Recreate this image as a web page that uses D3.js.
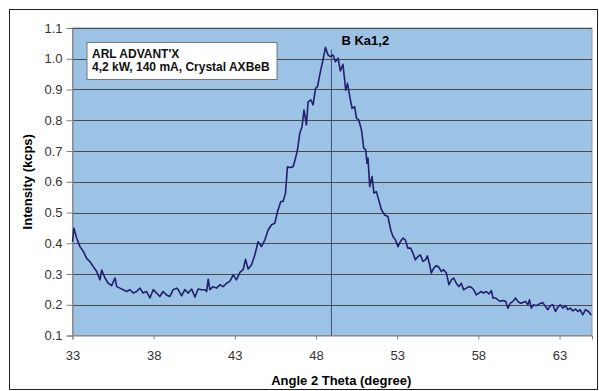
<!DOCTYPE html>
<html>
<head>
<meta charset="utf-8">
<script src="https://cdn.jsdelivr.net/npm/d3@7"></script>
<style>
  body { margin: 0; background: #fff; }
  svg { font-family: Arial, "Liberation Sans", sans-serif; }
</style>
</head>
<body>
<div id="chart"></div>
<script>
// spectrum: angle (degree) and intensity (kcps)
const angles = [
  33.00, 33.09, 33.26, 33.46, 33.67, 33.87, 34.08, 34.28, 34.49, 34.69, 34.80, 35.00,
  35.20, 35.41, 35.62, 35.72, 35.92, 36.12, 36.33, 36.54, 36.74, 36.95, 37.15, 37.35,
  37.56, 37.77, 37.97, 38.18, 38.38, 38.58, 38.79, 39.00, 39.20, 39.41, 39.51, 39.72,
  39.92, 40.13, 40.34, 40.54, 40.74, 40.95, 41.15, 41.26, 41.36, 41.46, 41.66, 41.87,
  42.08, 42.28, 42.49, 42.69, 42.90, 43.10, 43.31, 43.51, 43.66, 43.82, 44.03, 44.23,
  44.43, 44.64, 44.85, 45.05, 45.26, 45.46, 45.63, 45.83, 45.97, 46.12, 46.24, 46.38,
  46.59, 46.74, 46.86, 47.00, 47.14, 47.26, 47.41, 47.51, 47.68, 47.82, 47.97, 48.09,
  48.17, 48.29, 48.43, 48.58, 48.74, 48.89, 49.05, 49.20, 49.36, 49.50, 49.66, 49.73,
  49.83, 49.94, 50.08, 50.22, 50.38, 50.49, 50.63, 50.80, 50.94, 51.06, 51.14, 51.20,
  51.31, 51.45, 51.57, 51.72, 51.86, 52.03, 52.23, 52.43, 52.60, 52.74, 52.89, 53.05,
  53.20, 53.36, 53.50, 53.66, 53.83, 53.97, 54.12, 54.28, 54.43, 54.59, 54.74, 54.86,
  55.00, 55.10, 55.25, 55.41, 55.57, 55.72, 55.86, 56.03, 56.19, 56.34, 56.48, 56.64,
  56.80, 56.95, 57.09, 57.26, 57.42, 57.57, 57.71, 57.87, 58.03, 58.18, 58.32, 58.49,
  58.65, 58.80, 58.90, 59.06, 59.20, 59.35, 59.51, 59.68, 59.82, 59.97, 60.13, 60.29,
  60.43, 60.58, 60.74, 60.91, 61.05, 61.15, 61.26, 61.40, 61.57, 61.77, 61.97, 62.14,
  62.28, 62.43, 62.59, 62.75, 62.90, 63.04, 63.20, 63.37, 63.51, 63.66, 63.82, 63.98,
  64.13, 64.27, 64.43, 64.60, 64.78, 64.95
];
const intensity = [
  0.405, 0.449, 0.416, 0.389, 0.373, 0.351, 0.340, 0.324, 0.308, 0.281, 0.313, 0.287,
  0.270, 0.262, 0.287, 0.259, 0.254, 0.249, 0.243, 0.249, 0.238, 0.243, 0.254, 0.238,
  0.243, 0.222, 0.249, 0.238, 0.227, 0.243, 0.232, 0.227, 0.249, 0.254, 0.249, 0.229,
  0.249, 0.238, 0.251, 0.225, 0.251, 0.249, 0.249, 0.243, 0.283, 0.249, 0.259, 0.254,
  0.265, 0.259, 0.270, 0.276, 0.297, 0.281, 0.305, 0.314, 0.348, 0.316, 0.330, 0.362,
  0.405, 0.389, 0.411, 0.443, 0.460, 0.465, 0.503, 0.536, 0.536, 0.563, 0.649, 0.646,
  0.649, 0.677, 0.704, 0.758, 0.779, 0.833, 0.785, 0.860, 0.866, 0.850, 0.904, 0.909,
  0.931, 0.963, 0.996, 1.037, 1.012, 1.007, 1.012, 0.990, 1.002, 0.960, 0.982, 0.947,
  0.898, 0.920, 0.877, 0.839, 0.844, 0.807, 0.801, 0.769, 0.709, 0.704, 0.660, 0.677,
  0.584, 0.617, 0.563, 0.568, 0.541, 0.509, 0.492, 0.487, 0.444, 0.422, 0.411, 0.389,
  0.406, 0.417, 0.411, 0.384, 0.384, 0.368, 0.346, 0.357, 0.362, 0.341, 0.346, 0.359,
  0.330, 0.303, 0.319, 0.327, 0.322, 0.308, 0.314, 0.303, 0.265, 0.281, 0.287, 0.270,
  0.259, 0.270, 0.249, 0.254, 0.259, 0.257, 0.249, 0.232, 0.238, 0.243, 0.238, 0.243,
  0.235, 0.246, 0.222, 0.222, 0.216, 0.211, 0.214, 0.211, 0.189, 0.205, 0.211, 0.222,
  0.211, 0.205, 0.207, 0.211, 0.200, 0.216, 0.189, 0.200, 0.197, 0.203, 0.207, 0.194,
  0.184, 0.197, 0.200, 0.178, 0.192, 0.200, 0.189, 0.197, 0.184, 0.189, 0.180, 0.186,
  0.178, 0.184, 0.167, 0.184, 0.178, 0.167
];
const xTicks = [33, 38, 43, 48, 53, 58, 63];
const yTicks = [0.1, 0.2, 0.3, 0.4, 0.5, 0.6, 0.7, 0.8, 0.9, 1.0, 1.1];
const peakAngle = 48.95;
const peakLabel = "B Ka1,2";
const legendLines = ["ARL ADVANT'X", "4,2 kW, 140 mA, Crystal AXBeB"];

const width = 599, height = 391;
const margin = {top: 28, right: 7, bottom: 55.5, left: 72.5};
const w = width - margin.left - margin.right;
const h = height - margin.top - margin.bottom;

const svg = d3.select("#chart").append("svg")
  .attr("width", width)
  .attr("height", height);

// outer frame
svg.append("rect")
  .attr("x", 9.5).attr("y", 9.5)
  .attr("width", 588).attr("height", 380)
  .attr("fill", "#fff")
  .attr("stroke", "#222");

const g = svg.append("g").attr("transform", `translate(${margin.left},${margin.top})`);

const x = d3.scaleLinear().domain([33, 65]).range([0, w]);
const y = d3.scaleLinear().domain([0.1, 1.1]).range([h, 0]);

g.append("rect")
  .attr("width", w).attr("height", h)
  .attr("fill", "#9cc3e5")
  .attr("stroke", "#9a9a9a");

// horizontal grid
g.append("g")
  .selectAll("line")
  .data(yTicks.slice(1))
  .enter().append("line")
  .attr("x1", 0).attr("x2", w)
  .attr("y1", d => Math.round(y(d)) + 0.5)
  .attr("y2", d => Math.round(y(d)) + 0.5)
  .attr("stroke", "#4a4a4a");

// y axis
const yAxis = g.append("g")
  .call(d3.axisLeft(y).tickValues(yTicks).tickFormat(d3.format(".1f")).tickSize(6).tickPadding(4));
yAxis.select(".domain").attr("stroke", "#808080");
yAxis.selectAll(".tick line").attr("stroke", "#808080");
yAxis.selectAll("text").attr("font-size", 13).attr("fill", "#333")
  .attr("font-family", "Arial, 'Liberation Sans', sans-serif");

// x axis
const xAxis = g.append("g")
  .attr("transform", `translate(0,${h})`)
  .call(d3.axisBottom(x).tickValues(xTicks).tickFormat(d3.format("d")).tickSize(4).tickPadding(11));
xAxis.select(".domain").attr("stroke", "#808080");
xAxis.selectAll(".tick line").attr("stroke", "#808080");
xAxis.selectAll("text").attr("font-size", 13).attr("fill", "#333")
  .attr("font-family", "Arial, 'Liberation Sans', sans-serif");

// marker line at the peak
g.append("line")
  .attr("x1", x(peakAngle)).attr("x2", x(peakAngle))
  .attr("y1", y(1.03)).attr("y2", h)
  .attr("stroke", "#3f4f80")
  .attr("stroke-width", 1);

// spectrum
const pts = angles.map((a, i) => [a, intensity[i]]);
g.append("path")
  .datum(pts)
  .attr("fill", "none")
  .attr("stroke", "#221f6e")
  .attr("stroke-width", 1.6)
  .attr("stroke-linejoin", "round")
  .attr("d", d3.line().x(d => x(d[0])).y(d => y(d[1])));

g.append("text")
  .attr("x", x(peakAngle) + 10).attr("y", 17)
  .attr("font-size", 13).attr("font-weight", "bold")
  .text(peakLabel);

// legend box
const lg = g.append("g").attr("transform", "translate(14.5,14.5)");
lg.append("rect")
  .attr("width", 190).attr("height", 37)
  .attr("fill", "#fff").attr("stroke", "#777");
lg.selectAll("text")
  .data(legendLines)
  .enter().append("text")
  .attr("x", 5)
  .attr("y", (d, i) => 15 + i * 13.5)
  .attr("font-size", 12)
  .attr("font-weight", "bold")
  .attr("fill", "#111")
  .text(d => d);

// axis titles
svg.append("text")
  .attr("transform", `translate(32,${margin.top + h / 2}) rotate(-90)`)
  .attr("text-anchor", "middle")
  .attr("font-size", 13).attr("font-weight", "bold")
  .text("Intensity (kcps)");

svg.append("text")
  .attr("x", margin.left + w / 2 + 9).attr("y", 385)
  .attr("text-anchor", "middle")
  .attr("font-size", 13).attr("font-weight", "bold")
  .text("Angle 2 Theta (degree)");
</script>
</body>
</html>
